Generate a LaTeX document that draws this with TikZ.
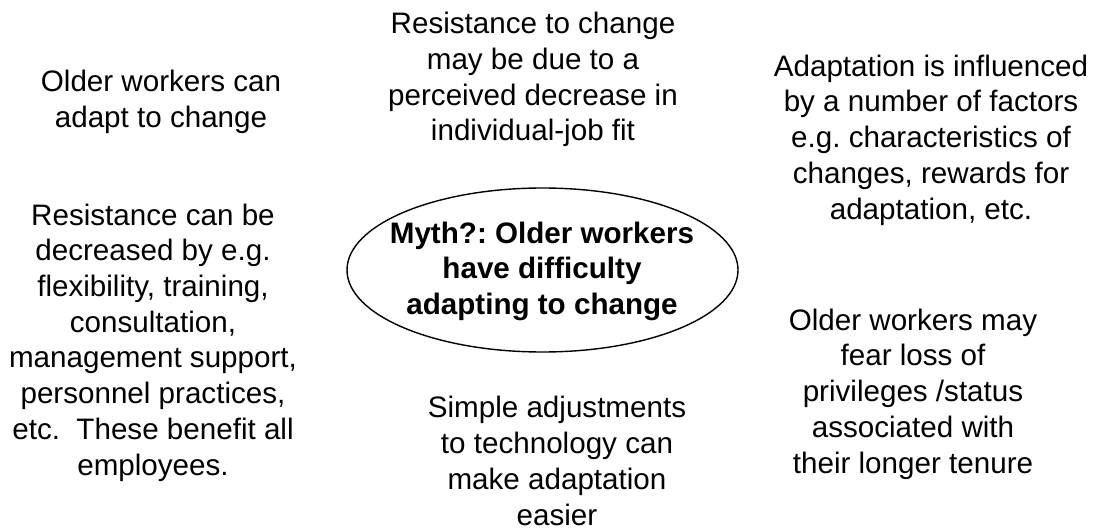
\documentclass[tikz,border=0pt]{standalone}
\usepackage{fontspec}
\setmainfont{Liberation Sans}
\usetikzlibrary{shapes.geometric}
\begin{document}
\frenchspacing
\begin{tikzpicture}[x=1pt,y=-1pt,
  % each text block is placed by the baseline of its last line
  note/.style={align=center,inner sep=0pt,anchor=base,
    font=\fontsize{29.6}{35.7}\selectfont},
  myth/.style={draw,line width=1.4pt,ellipse,minimum width=391pt,minimum height=164pt,inner sep=0pt},
  mythtext/.style={note,font=\fontsize{29.6}{35.2}\selectfont\bfseries}]
\useasboundingbox (0,0) rectangle (1099,529);
% central idea
\node[myth] (core) at (542.5,270) {};
\node[mythtext] (coretext) at (542,314) {Myth?: Older workers\\have difficulty\\adapting to change};
% surrounding statements
\node[note] (adapt) at (161,127.7) {Older workers can\\adapt to change};
\node[note] (reduce) at (153,475) {Resistance can be\\decreased by e.g.\\flexibility, training,\\consultation,\\management support,\\personnel practices,\\etc.\ \ These benefit all\\employees.};
\node[note] (fit) at (533,141) {Resistance to change\\may be due to a\\perceived decrease in\\individual-job fit};
\node[note] (factors) at (931,219) {Adaptation is influenced\\by a number of factors\\e.g. characteristics of\\changes, rewards for\\adaptation, etc.};
\node[note] (status) at (913,473) {Older workers may\\fear loss of\\privileges /status\\associated with\\their longer tenure};
\node[note] (tech) at (557,525) {Simple adjustments\\to technology can\\make adaptation\\easier};
\end{tikzpicture}
\end{document}
